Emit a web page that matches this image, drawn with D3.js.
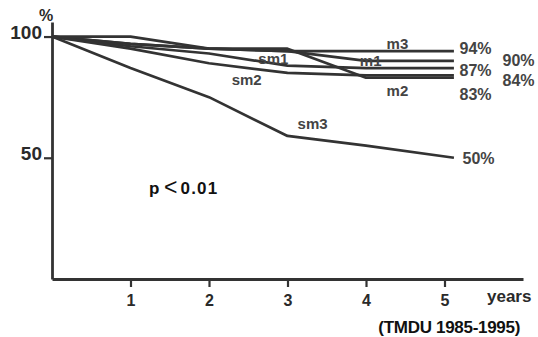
<!DOCTYPE html>
<html>
<head>
<meta charset="utf-8">
<script src="https://cdn.jsdelivr.net/npm/d3@7"></script>
<style>
  body { margin: 0; background: #fff; }
  svg { display: block; font-family: "Liberation Sans", Arial, sans-serif; }
</style>
</head>
<body>
<svg id="chart" width="538" height="337"></svg>
<script>
// years of follow-up (last point drawn slightly past year 5, as in the figure)
const years = [0, 1, 2, 3, 4, 5.12];
const seriesNames = ['m3', 'm1', 'sm1', 'sm2', 'm2', 'sm3'];
const m3 = [100, 97, 95, 94, 94, 94];
const m1 = [100, 97, 95, 94, 90, 90];
const sm1 = [100, 96, 93, 88, 87, 87];
const sm2 = [100, 95, 89, 85, 84, 84];
const m2 = [100, 100, 95, 95, 83, 83];
const sm3 = [100, 87, 75, 59, 55, 50];
const endLabels = ['94%', '90%', '87%', '84%', '83%', '50%'];
// series name label positions, in data units [year, %]
const nameAt = [[4.40, 96.3], [4.06, 89.3], [2.82, 90.2], [2.48, 81.6], [4.40, 77], [3.32, 63.5]];
const xTicks = [1, 2, 3, 4, 5];
const yTicks = [50, 100];

const values = [m3, m1, sm1, sm2, m2, sm3];

const svg = d3.select('#chart');
const ink = '#333';

const x = d3.scaleLinear().domain([0, 6]).range([52, 523]);
const y = d3.scaleLinear().domain([0, 106]).range([279, 22]);

const line = d3.line()
  .x((d, i) => x(years[i]))
  .y(d => y(d));

// series lines
svg.append('g')
  .selectAll('path')
  .data(values)
  .join('path')
  .attr('fill', 'none')
  .attr('stroke', ink)
  .attr('stroke-width', 2.7)
  .attr('stroke-linejoin', 'round')
  .attr('d', line);

// axes
const xAxis = svg.append('g')
  .attr('transform', `translate(0, ${y(0)})`)
  .call(d3.axisBottom(x).tickValues(xTicks).tickSize(8).tickSizeOuter(0).tickFormat(d3.format('d')));

const yAxis = svg.append('g')
  .attr('transform', `translate(${x(0)}, 0)`)
  .call(d3.axisLeft(y).tickValues(yTicks).tickSize(8).tickSizeOuter(0));

[xAxis, yAxis].forEach(a => {
  a.select('.domain').attr('stroke', ink).attr('stroke-width', 2.8);
  a.selectAll('.tick line').attr('stroke', ink).attr('stroke-width', 2.2);
  a.selectAll('.tick text')
    .attr('fill', '#2a2a2a')
    .attr('font-weight', 'bold');
});
xAxis.selectAll('.tick text').attr('font-size', 16).attr('dy', '1.0em');
yAxis.selectAll('.tick text').attr('font-size', 19).attr('x', -10).attr('dy', '0.1em');

svg.append('text')
  .attr('x', x(0) - 13).attr('y', 21)
  .attr('font-size', 16).attr('font-weight', 'bold').attr('fill', '#2a2a2a')
  .text('%');

svg.append('text')
  .attr('x', 487).attr('y', 302)
  .attr('font-size', 17).attr('font-weight', 'bold').attr('fill', '#2a2a2a')
  .text('years');

svg.append('text')
  .attr('x', 520).attr('y', 333)
  .attr('text-anchor', 'end')
  .attr('font-size', 17).attr('font-weight', 'bold').attr('fill', '#111')
  .attr('letter-spacing', -0.3)
  .text('(TMDU 1985-1995)');

// p-value note with a wide "<" sign
const pNote = svg.append('text')
  .attr('x', 149).attr('y', 194)
  .attr('font-size', 17).attr('font-weight', 'bold').attr('fill', '#111');
pNote.append('tspan').text('p ');
pNote.append('tspan').attr('font-size', 23).attr('font-weight', 'normal').attr('dy', 1).text('<');
pNote.append('tspan').attr('dy', -1).attr('dx', 3).attr('letter-spacing', 1.2).text('0.01');

// series names
svg.append('g')
  .selectAll('text')
  .data(seriesNames)
  .join('text')
  .attr('x', (d, i) => x(nameAt[i][0]))
  .attr('y', (d, i) => y(nameAt[i][1]))
  .attr('text-anchor', 'middle')
  .attr('dominant-baseline', 'middle')
  .attr('font-size', 15)
  .attr('font-weight', 'bold')
  .attr('fill', '#444')
  .text(d => d);

// end value labels: two staggered columns
const endDx = [15, 58, 15, 58, 15, 18];
const endDy = [-1, 1, 4, 6, 18, 2];
svg.append('g')
  .selectAll('text')
  .data(endLabels)
  .join('text')
  .attr('x', (d, i) => x(5) + endDx[i])
  .attr('y', (d, i) => y(values[i][values[i].length - 1]) + endDy[i])
  .attr('dominant-baseline', 'middle')
  .attr('font-size', 16)
  .attr('font-weight', 'bold')
  .attr('fill', '#444')
  .text(d => d);
</script>
</body>
</html>
